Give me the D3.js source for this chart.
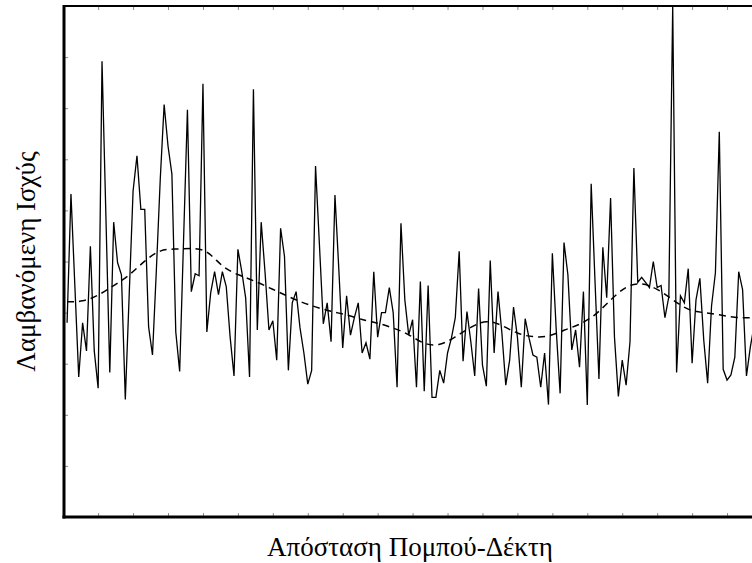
<!DOCTYPE html>
<html>
<head>
<meta charset="utf-8">
<script src="https://cdn.jsdelivr.net/npm/d3@7"></script>
<style>
  html, body { margin: 0; padding: 0; background: #fff; }
  svg { display: block; }
</style>
</head>
<body>
<svg id="chart" width="752" height="563"></svg>
<script>
// Received power (relative units) at each measurement step along the path
const power = [
  38.0, 63.2, 45.3, 27.4, 38.0, 32.5, 53.0, 32.5, 25.2, 89.2,
  58.9, 28.3, 57.7, 49.8, 47.4, 23.0, 43.5, 63.8, 70.7, 60.2,
  60.2, 37.2, 31.7, 48.4, 66.1, 80.7, 72.6, 67.1, 36.2, 28.5,
  54.1, 79.7, 44.1, 47.6, 47.2, 84.8, 36.2, 43.9, 48.0, 43.5,
  48.0, 45.1, 35.2, 27.6, 52.4, 48.0, 42.9, 27.4, 83.7, 36.6,
  57.7, 47.8, 36.6, 38.4, 30.7, 56.5, 51.0, 28.7, 41.9, 44.1,
  37.0, 32.1, 26.0, 28.7, 68.7, 53.3, 37.8, 41.9, 34.3, 63.0,
  48.4, 33.1, 43.3, 35.6, 39.0, 41.9, 32.1, 34.1, 30.9, 48.0,
  35.2, 40.0, 40.0, 44.9, 40.0, 25.4, 57.5, 42.5, 35.6, 38.6,
  25.4, 46.1, 24.6, 45.3, 23.4, 23.4, 28.7, 26.2, 32.1, 35.0,
  39.0, 52.0, 30.5, 40.2, 34.3, 27.6, 44.7, 29.7, 25.6, 50.2,
  32.1, 44.1, 36.0, 25.8, 30.7, 41.1, 35.2, 25.4, 38.8, 35.0,
  31.7, 31.3, 25.4, 32.1, 22.0, 51.6, 36.6, 24.2, 53.7, 47.4,
  32.7, 36.6, 29.3, 44.1, 21.9, 65.2, 45.9, 27.0, 52.8, 42.9,
  62.4, 35.2, 23.6, 30.7, 25.8, 34.3, 68.3, 45.9, 46.9, 45.9,
  44.9, 50.0, 44.9, 45.3, 39.0, 43.1, 100.0, 28.3, 43.3, 41.9,
  48.6, 30.1, 42.5, 46.7, 34.6, 26.2, 41.3, 47.8, 75.4, 28.9,
  26.8, 27.8, 31.3, 48.0, 44.5, 27.6, 33.3, 37.6
];

// Local mean of the received power, every fourth step
const trendStep = [
    1,   5,   9,  13,  17,  21,  25,  29,  33,  37,
   41,  45,  49,  53,  57,  61,  65,  69,  73,  77,
   81,  85,  89,  93,  97, 101, 105, 109, 113, 117,
  121, 125, 129, 133, 137, 141, 145, 149, 153, 157,
  161, 165, 169, 173, 177
];
const trendPower = [
  42.1, 42.1, 43.3, 45.3, 47.2, 50.2, 52.4, 52.4, 52.6, 52.4,
  48.8, 47.4, 46.3, 44.9, 43.5, 42.1, 41.1, 40.2, 39.6, 38.6,
  38.0, 37.0, 35.8, 33.7, 33.5, 35.2, 37.2, 38.6, 37.6, 35.8,
  35.2, 35.2, 36.6, 37.6, 39.4, 42.5, 45.3, 45.9, 44.7, 42.5,
  40.4, 40.0, 39.6, 39.0, 39.0
];

// Tick positions (no labels are printed)
const xTickValues = d3.range(0, 181, 9);
const yTickValues = d3.range(0, 101, 10);

const xLabel = "Απόσταση Πομπού-Δέκτη";
const yLabel = "Λαμβανόμενη Ισχύς";

const svg = d3.select("#chart");

const plot = { left: 64, right: 762, top: 6, bottom: 517 };

const x = d3.scaleLinear().domain([0, 180]).range([plot.left - 0.8, plot.right]);
const y = d3.scaleLinear().domain([0, 100]).range([plot.bottom, plot.top]);

// inward tick marks
const tickStyle = g => {
  g.select(".domain").remove();
  g.selectAll(".tick line").attr("stroke", "#8a8a8a").attr("stroke-width", 1);
};
svg.append("g")
  .attr("transform", `translate(0,${plot.bottom - 1})`)
  .call(d3.axisTop(x).tickValues(xTickValues).tickSize(3).tickFormat(""))
  .call(tickStyle);
svg.append("g")
  .attr("transform", `translate(0,${plot.top + 1})`)
  .call(d3.axisBottom(x).tickValues(xTickValues).tickSize(3).tickFormat(""))
  .call(tickStyle);
svg.append("g")
  .attr("transform", `translate(${plot.left + 1},0)`)
  .call(d3.axisRight(y).tickValues(yTickValues).tickSize(3).tickFormat(""))
  .call(tickStyle);

// measured power
const samples = power.map((v, i) => ({ s: i + 1, v }));
svg.append("path")
  .datum(samples)
  .attr("fill", "none")
  .attr("stroke", "#000")
  .attr("stroke-width", 1.3)
  .attr("stroke-linejoin", "miter")
  .attr("d", d3.line().x(d => x(d.s)).y(d => y(d.v)));

// smoothed trend
const trend = trendStep.map((s, i) => ({ s, v: trendPower[i] }));
svg.append("path")
  .datum(trend)
  .attr("fill", "none")
  .attr("stroke", "#000")
  .attr("stroke-width", 1.5)
  .attr("stroke-dasharray", "7,5")
  .attr("d", d3.line().curve(d3.curveBasis).x(d => x(d.s)).y(d => y(d.v)));

// frame
svg.append("line").attr("x1", plot.left).attr("x2", plot.right + 2)
  .attr("y1", plot.top).attr("y2", plot.top)
  .attr("stroke", "#000").attr("stroke-width", 2);
svg.append("line").attr("x1", plot.left - 1.5).attr("x2", plot.right + 2)
  .attr("y1", plot.bottom).attr("y2", plot.bottom)
  .attr("stroke", "#000").attr("stroke-width", 3);
svg.append("line").attr("x1", plot.left).attr("x2", plot.left)
  .attr("y1", plot.top - 1).attr("y2", plot.bottom + 1.5)
  .attr("stroke", "#000").attr("stroke-width", 3);
svg.append("line").attr("x1", plot.right).attr("x2", plot.right)
  .attr("y1", plot.top).attr("y2", plot.bottom)
  .attr("stroke", "#000").attr("stroke-width", 2);

// axis titles
svg.append("text")
  .attr("x", 410)
  .attr("y", 556)
  .attr("text-anchor", "middle")
  .style("font-family", "Liberation Serif")
  .style("font-size", "27px")
  .style("fill", "#000")
  .text(xLabel);
svg.append("text")
  .attr("transform", `translate(35,${(plot.top + plot.bottom) / 2}) rotate(-90)`)
  .attr("text-anchor", "middle")
  .style("font-family", "Liberation Serif")
  .style("font-size", "27px")
  .style("fill", "#000")
  .text(yLabel);
</script>
</body>
</html>
